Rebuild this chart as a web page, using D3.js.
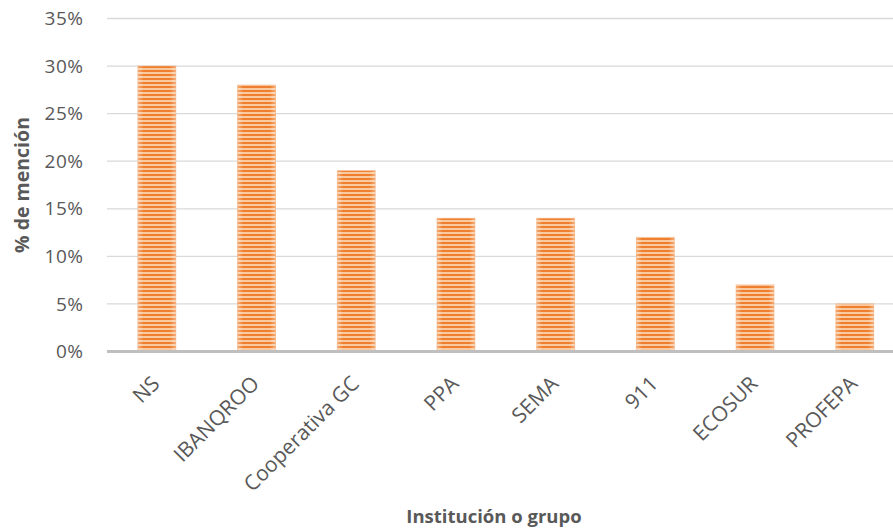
<!DOCTYPE html>
<html>
<head>
<meta charset="utf-8">
<script src="https://cdn.jsdelivr.net/npm/d3@7"></script>
<style>
  body { margin: 0; background: #fff; }
  text { font-family: "Open Sans", "Noto Sans", sans-serif; }
</style>
</head>
<body>
<script>
var categories = ["NS", "IBANQROO", "Cooperativa GC", "PPA", "SEMA", "911", "ECOSUR", "PROFEPA"];
var values = [0.30, 0.28, 0.19, 0.14, 0.14, 0.12, 0.07, 0.05];
var yTicks = [0, 0.05, 0.10, 0.15, 0.20, 0.25, 0.30, 0.35];

var width = 893, height = 531;

var svg = d3.select("body").append("svg")
    .attr("width", width)
    .attr("height", height);

var defs = svg.append("defs");

// horizontal stripe pattern of the bars
var pat = defs.append("pattern")
    .attr("id", "stripes")
    .attr("patternUnits", "userSpaceOnUse")
    .attr("width", 8)
    .attr("height", 4);
pat.append("rect").attr("width", 8).attr("height", 4).attr("fill", "#f9c9a0");
pat.append("rect").attr("y", 2).attr("width", 8).attr("height", 2).attr("fill", "#ef7f2e");

// lighter left/right edges
var grad = defs.append("linearGradient")
    .attr("id", "edge")
    .attr("x1", "0").attr("x2", "1").attr("y1", "0").attr("y2", "0");
grad.append("stop").attr("offset", "0%").attr("stop-color", "#fff").attr("stop-opacity", 0.35);
grad.append("stop").attr("offset", "15%").attr("stop-color", "#fff").attr("stop-opacity", 0);
grad.append("stop").attr("offset", "85%").attr("stop-color", "#fff").attr("stop-opacity", 0);
grad.append("stop").attr("offset", "100%").attr("stop-color", "#fff").attr("stop-opacity", 0.35);

var xScale = d3.scaleBand()
    .domain(categories)
    .range([107, 904.6])
    .paddingInner(0.62)
    .paddingOuter(0.31);

var yScale = d3.scaleLinear()
    .domain([0, 0.35])
    .range([351.5, 18.5]);

// grid lines
svg.append("g")
    .selectAll("line")
    .data(yTicks.slice(1))
    .enter()
    .append("line")
    .attr("x1", 107)
    .attr("x2", width)
    .attr("y1", function(d) { return yScale(d); })
    .attr("y2", function(d) { return yScale(d); })
    .attr("stroke", "#d9d9d9")
    .attr("stroke-width", 1.3);

// y axis labels
var yAxis = d3.axisLeft(yScale)
    .tickValues(yTicks)
    .tickFormat(d3.format(".0%"))
    .tickSize(0)
    .tickPadding(0);

svg.append("g")
    .attr("class", "y axis")
    .attr("transform", "translate(83.5,0)")
    .call(yAxis)
    .call(function(g) { g.select(".domain").remove(); })
    .selectAll("text")
    .attr("fill", "#595959")
    .style("font-size", "19px")
    .style("letter-spacing", "0.5px");

// bars
var bars = svg.append("g")
    .selectAll("g")
    .data(values)
    .enter()
    .append("g");

bars.append("rect")
    .attr("x", function(d, i) { return xScale(categories[i]); })
    .attr("y", function(d) { return yScale(d); })
    .attr("width", xScale.bandwidth())
    .attr("height", function(d) { return yScale(0) - yScale(d); })
    .attr("fill", "url(#stripes)");

bars.append("rect")
    .attr("x", function(d, i) { return xScale(categories[i]); })
    .attr("y", function(d) { return yScale(d); })
    .attr("width", xScale.bandwidth())
    .attr("height", function(d) { return yScale(0) - yScale(d); })
    .attr("fill", "url(#edge)")
    .attr("stroke", "#f4a468")
    .attr("stroke-opacity", 0.5)
    .attr("stroke-width", 1);

// x axis line
svg.append("line")
    .attr("x1", 107)
    .attr("x2", width)
    .attr("y1", yScale(0))
    .attr("y2", yScale(0))
    .attr("stroke", "#bfbfbf")
    .attr("stroke-width", 3);

// x axis labels
var xAxis = d3.axisBottom(xScale).tickSize(0).tickPadding(0);

svg.append("g")
    .attr("class", "x axis")
    .call(xAxis)
    .call(function(g) { g.select(".domain").remove(); })
    .selectAll(".tick text")
    .attr("fill", "#595959")
    .style("font-size", "21px")
    .attr("text-anchor", "end")
    .attr("dy", "0")
    .attr("y", 0)
    .attr("transform", "translate(4,385) rotate(-45)");

// axis titles
svg.append("text")
    .attr("transform", "translate(29,185) rotate(-90)")
    .attr("text-anchor", "middle")
    .attr("fill", "#595959")
    .style("font-size", "19.5px")
    .style("font-weight", "bold")
    .text("% de mención");

svg.append("text")
    .attr("x", 494)
    .attr("y", 523)
    .attr("text-anchor", "middle")
    .attr("fill", "#595959")
    .style("font-size", "18.5px")
    .style("font-weight", "bold")
    .text("Institución o grupo");
</script>
</body>
</html>
